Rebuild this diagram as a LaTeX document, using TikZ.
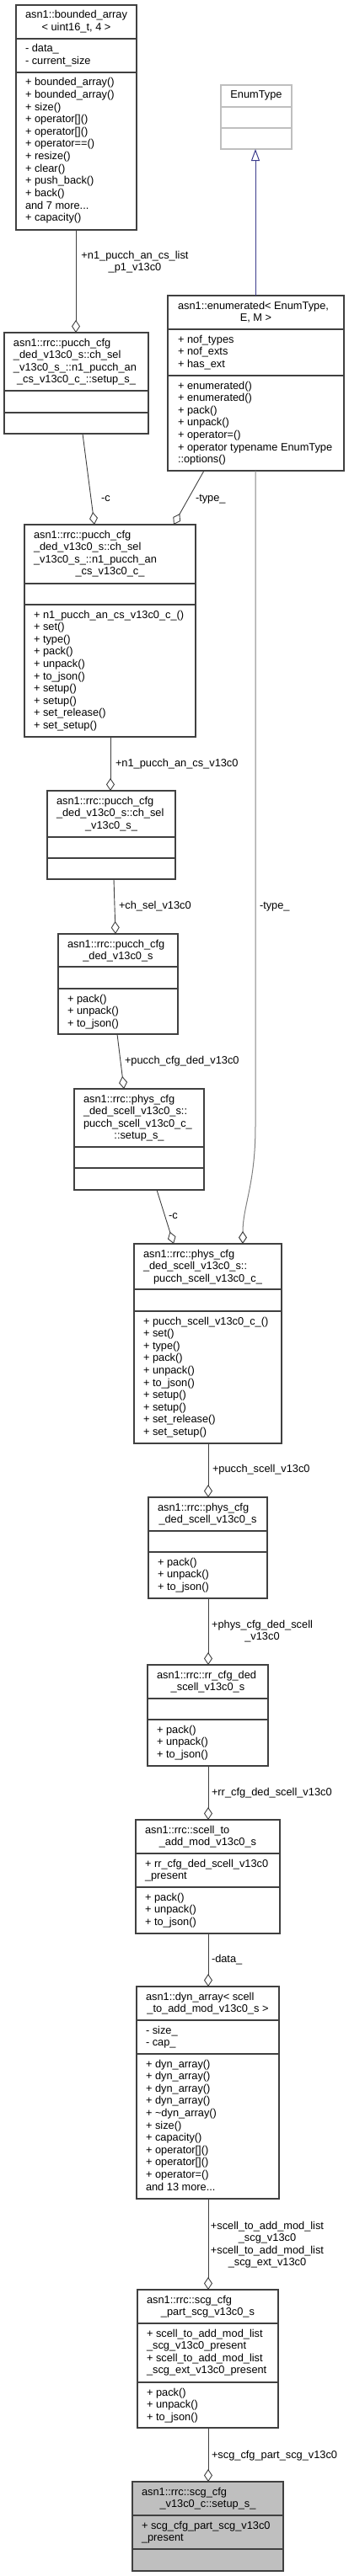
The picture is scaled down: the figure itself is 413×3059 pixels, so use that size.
\documentclass[tikz,border=0pt]{standalone}
\usepackage{fontspec}
\setmainfont{Liberation Sans}
\usetikzlibrary{arrows.meta,calc}
\definecolor{edgec}{HTML}{404040}
\definecolor{inhc}{RGB}{60,60,140}
\definecolor{lgray}{HTML}{BFBFBF}
\definecolor{usec}{HTML}{808080}
\definecolor{hilite}{HTML}{BFBFBF}
\newcommand\mdots{...}
\tikzset{
  txt/.style={inner sep=0pt, outer sep=0pt, font=\fontsize{12.8}{14.6}\selectfont, text=black},
  cbox/.style={draw=edgec, line width=1.1pt, anchor=north west, inner sep=0pt, outer sep=0pt, fill=white},
  sepl/.style={draw=edgec, line width=1.1pt},
  agg/.style={draw=edgec, line width=0.9pt, -{Diamond[open,length=15pt,width=10pt]}},
  usel/.style={draw=usec, line width=1pt, -{Diamond[open,length=15pt,width=10pt,color=edgec]}},
  inh/.style={draw=inhc, line width=1pt, -{Triangle[open,length=14pt,width=10pt]}},
}
\newcommand\ltxt[4]{\foreach \t [count=\i] in {#4}{\node[txt,anchor=base west] (#1\i) at (#2,{#3+(\i-1)*14.6}) {\t};}}
\newcommand\ctxt[4]{\foreach \t [count=\i] in {#4}{\node[txt,anchor=base] (#1\i) at (#2,{#3+(\i-1)*14.6}) {\t};}}
\newcommand\cbx[7][]{%
  \node[cbox,#1,minimum width={#5-#3},minimum height={#6-#4}] (#2) at (#3,#4) {};
  \foreach \s in {#7} {\draw[sepl] (#3,\s) -- (#5,\s);}}
\begin{document}
\begin{tikzpicture}[x=1pt,y=-1pt]
\fill[white] (0,0) rectangle (413,3059);
\useasboundingbox (0,0) rectangle (413,3059);

% bounded_array
\cbx{ba}{19}{6}{162}{273}{46,86}
\ltxt{bat}{30}{22}{asn1::bounded\_array}
\ctxt{batc}{90.5}{36.6}{{< uint16\_t, 4 >}}
\ltxt{baa}{30}{62}{- data\_,- current\_size}
\ltxt{bam}{30}{102}{+ bounded\_array(),+ bounded\_array(),+ size(),+ operator[](),+ operator[](),+ operator==(),+ resize(),+ clear(),+ push\_back(),+ back(),and 7 more\mdots,+ capacity()}

% EnumType
\node[cbox,draw=lgray,minimum width=84pt,minimum height=76pt] (et) at (262,101) {};
\draw[sepl,draw=lgray] (262,127) -- (346,127);
\draw[sepl,draw=lgray] (262,152) -- (346,152);
\ctxt{ett}{304}{117}{EnumType}

% enumerated
\cbx{en}{199}{351}{408}{559}{391,446}
\ltxt{ent}{211}{367}{{asn1::enumerated< EnumType,}}
\ctxt{entc}{303.5}{381.6}{{E, M >}}
\ltxt{ena}{211}{407}{+ nof\_types,+ nof\_exts,+ has\_ext}
\ltxt{enm}{211}{462}{+ enumerated(),+ enumerated(),+ pack(),+ unpack(),+ operator=(),+ operator typename EnumType,::options()}

% n1 pucch setup_s
\cbx{setA}{5}{395}{176}{515}{464,490}
\ltxt{setAt}{16}{411}{asn1::rrc::pucch\_cfg,\_ded\_v13c0\_s::ch\_sel,\_v13c0\_s\_::n1\_pucch\_an}
\ctxt{setAtc}{90.5}{454.8}{\_cs\_v13c0\_c\_::setup\_s\_}

% n1_pucch_an_cs_v13c0_c_
\cbx{n1c}{29}{623}{232}{875}{693,718}
\ltxt{n1ct}{40}{639}{asn1::rrc::pucch\_cfg,\_ded\_v13c0\_s::ch\_sel,\_v13c0\_s\_::n1\_pucch\_an}
\ctxt{n1ctc}{130.5}{682.8}{\_cs\_v13c0\_c\_}
\ltxt{n1cm}{40}{734}{+ n1\_pucch\_an\_cs\_v13c0\_c\_(),+ set(),+ type(),+ pack(),+ unpack(),+ to\_json(),+ setup(),+ setup(),+ set\_release(),+ set\_setup()}

% ch_sel_v13c0_s_
\cbx{chs}{56}{939}{208}{1044}{994,1019}
\ltxt{chst}{67}{955}{asn1::rrc::pucch\_cfg,\_ded\_v13c0\_s::ch\_sel}
\ctxt{chstc}{132}{984.2}{\_v13c0\_s\_}

% pucch_cfg_ded_v13c0_s
\cbx{pcd}{69}{1109}{211}{1228}{1148,1174}
\ltxt{pcdt}{80}{1125}{asn1::rrc::pucch\_cfg}
\ctxt{pcdtc}{140}{1139.6}{\_ded\_v13c0\_s}
\ltxt{pcdm}{80}{1190}{+ pack(),+ unpack(),+ to\_json()}

% phys setup_s
\cbx{setB}{88}{1293}{242}{1413}{1362,1387}
\ltxt{setBt}{99}{1309}{asn1::rrc::phys\_cfg,\_ded\_scell\_v13c0\_s::,pucch\_scell\_v13c0\_c\_}
\ctxt{setBtc}{165}{1352.8}{::setup\_s\_}

% pucch_scell_v13c0_c_
\cbx{psc}{159}{1477}{334}{1714}{1531,1557}
\ltxt{psct}{170}{1493}{asn1::rrc::phys\_cfg,\_ded\_scell\_v13c0\_s::}
\ctxt{psctc}{246.5}{1522.2}{pucch\_scell\_v13c0\_c\_}
\ltxt{pscm}{170}{1573}{+ pucch\_scell\_v13c0\_c\_(),+ set(),+ type(),+ pack(),+ unpack(),+ to\_json(),+ setup(),+ setup(),+ set\_release(),+ set\_setup()}

% phys_cfg_ded_scell_v13c0_s
\cbx{pcds}{176}{1778}{317}{1898}{1818,1843}
\ltxt{pcdst}{187}{1794}{asn1::rrc::phys\_cfg}
\ctxt{pcdstc}{246.5}{1808.6}{\_ded\_scell\_v13c0\_s}
\ltxt{pcdsm}{187}{1859}{+ pack(),+ unpack(),+ to\_json()}

% rr_cfg_ded_scell_v13c0_s
\cbx{rr}{175}{1977}{318}{2097}{2017,2042}
\ltxt{rrt}{186}{1993}{asn1::rrc::rr\_cfg\_ded}
\ctxt{rrtc}{246.5}{2007.6}{\_scell\_v13c0\_s}
\ltxt{rrm}{186}{2058}{+ pack(),+ unpack(),+ to\_json()}

% scell_to_add_mod_v13c0_s
\cbx{sam}{161}{2161}{332}{2296}{2201,2241}
\ltxt{samt}{172}{2177}{asn1::rrc::scell\_to}
\ctxt{samtc}{246.5}{2191.6}{\_add\_mod\_v13c0\_s}
\ltxt{sama}{172}{2217}{+ rr\_cfg\_ded\_scell\_v13c0,\_present}
\ltxt{samm}{172}{2257}{+ pack(),+ unpack(),+ to\_json()}

% dyn_array
\cbx{dyn}{162}{2359}{331}{2611}{2399,2439}
\ltxt{dynt}{173}{2375}{asn1::dyn\_array< scell}
\ctxt{dyntc}{246.5}{2389.6}{\_to\_add\_mod\_v13c0\_s >}
\ltxt{dyna}{173}{2415}{- size\_,- cap\_}
\ltxt{dynm}{173}{2455}{+ dyn\_array(),+ dyn\_array(),+ dyn\_array(),+ dyn\_array(),+ \textasciitilde dyn\_array(),+ size(),+ capacity(),+ operator[](),+ operator[](),+ operator=(),and 13 more\mdots}

% scg_cfg_part_scg_v13c0_s
\cbx{scgp}{163}{2719}{330}{2883}{2759,2829}
\ltxt{scgpt}{174}{2735}{asn1::rrc::scg\_cfg}
\ctxt{scgptc}{246.5}{2749.6}{\_part\_scg\_v13c0\_s}
\ltxt{scgpa}{174}{2775}{+ scell\_to\_add\_mod\_list,\_scg\_v13c0\_present,+ scell\_to\_add\_mod\_list,\_scg\_ext\_v13c0\_present}
\ltxt{scgpm}{174}{2845}{+ pack(),+ unpack(),+ to\_json()}

% scg_cfg_v13c0_c::setup_s_
\cbx[fill=hilite]{fin}{157}{2947}{336}{3053}{2987,3027}
\ltxt{fint}{168}{2963}{asn1::rrc::scg\_cfg}
\ctxt{fintc}{246.5}{2977.6}{\_v13c0\_c::setup\_s\_}
\ltxt{fina}{168}{3003}{+ scg\_cfg\_part\_scg\_v13c0,\_present}

% connectors
\draw[inh] ($(en.north west)+(104,0)$) -- ($(et.south west)+(41,0)$);
\draw[agg] ($(ba.south west)+(71,0)$) -- ($(setA.north west)+(85,0)$);
\draw[agg] ($(setA.south west)+(93,0)$) -- ($(n1c.north west)+(83,0)$);
\draw[agg] ($(en.south west)+(43,0)$) -- ($(n1c.north west)+(177,0)$);
\draw[agg] ($(n1c.south west)+(102,0)$) -- ($(chs.north west)+(75,0)$);
\draw[agg] ($(chs.south west)+(79,0)$) -- ($(pcd.north west)+(68,0)$);
\draw[agg] ($(pcd.south west)+(70,0)$) -- ($(setB.north west)+(59,0)$);
\draw[agg] ($(setB.south west)+(98,0)$) -- ($(psc.north west)+(47,0)$);
\draw[usel] ($(en.south west)+(104,0)$) -- ($(psc.north west)+(144,-140)$)
   .. controls ($(psc.north west)+(144,-70)$) and ($(psc.north west)+(129,-45)$) .. ($(psc.north west)+(129,0)$);
\draw[agg] ($(psc.south west)+(88,0)$) -- ($(pcds.north west)+(71,0)$);
\draw[agg] ($(pcds.south west)+(71,0)$) -- ($(rr.north west)+(72,0)$);
\draw[agg] ($(rr.south west)+(72,0)$) -- ($(sam.north west)+(86,0)$);
\draw[agg] ($(sam.south west)+(86,0)$) -- ($(dyn.north west)+(85,0)$);
\draw[agg] ($(dyn.south west)+(85,0)$) -- ($(scgp.north west)+(84,0)$);
\draw[agg] ($(scgp.south west)+(84,0)$) -- ($(fin.north west)+(90,0)$);

% connector labels
\ctxt{l1}{160}{307}{+n1\_pucch\_an\_cs\_list,\_p1\_v13c0}
\ltxt{l2}{120}{595}{-c}
\ltxt{l3}{232}{595}{-type\_}
\ltxt{l4}{137}{910}{+n1\_pucch\_an\_cs\_v13c0}
\ltxt{l5}{141}{1079}{+ch\_sel\_v13c0}
\ltxt{l6}{308}{1079}{-type\_}
\ltxt{l7}{148}{1263}{+pucch\_cfg\_ded\_v13c0}
\ltxt{l8}{200}{1447}{-c}
\ltxt{l9}{252}{1748}{+pucch\_scell\_v13c0}
\ctxt{l10}{311}{1933}{+phys\_cfg\_ded\_scell,\_v13c0}
\ltxt{l11}{251}{2132}{+rr\_cfg\_ded\_scell\_v13c0}
\ltxt{l12}{251}{2330}{-data\_}
\ctxt{l13}{317}{2647}{+scell\_to\_add\_mod\_list,\_scg\_v13c0,+scell\_to\_add\_mod\_list,\_scg\_ext\_v13c0}
\ltxt{l14}{251}{2919}{+scg\_cfg\_part\_scg\_v13c0}
\end{tikzpicture}
\end{document}
